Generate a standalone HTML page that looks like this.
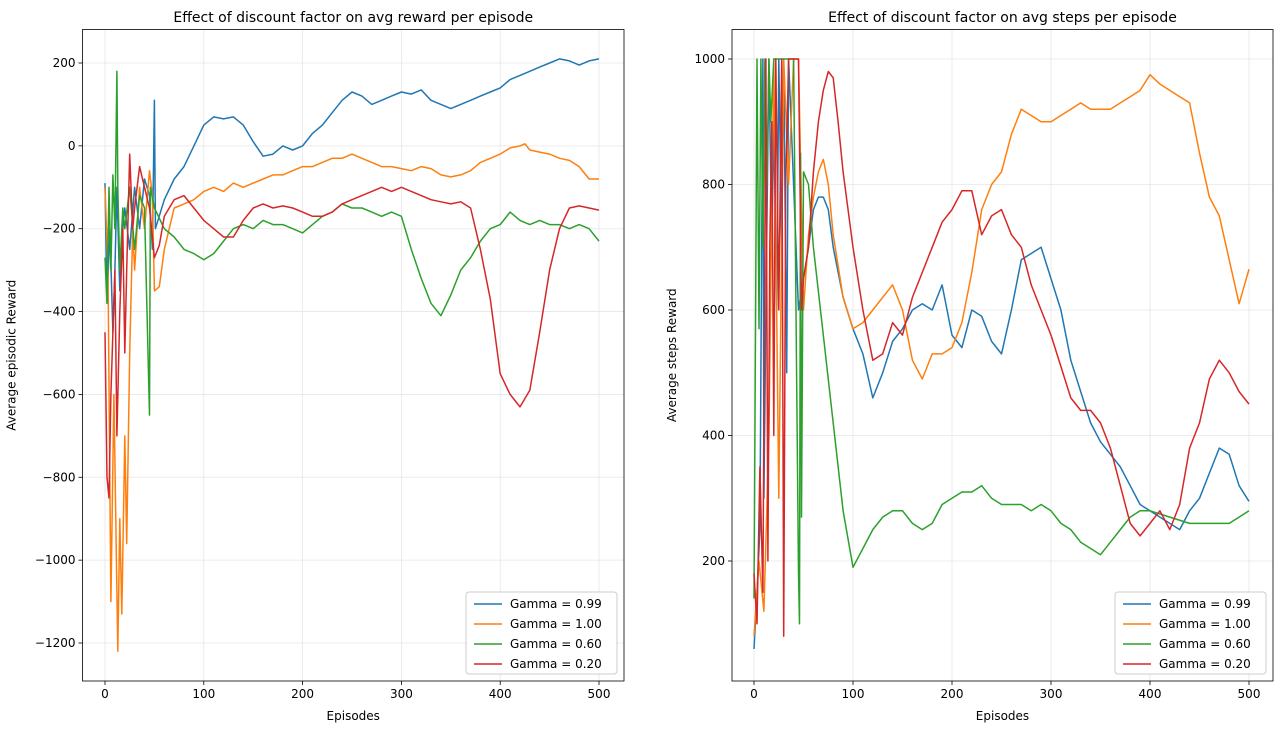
<!DOCTYPE html>
<html><head><meta charset="utf-8"><style>
body{margin:0;background:#fff;font-family:"Liberation Sans","DejaVu Sans",sans-serif}
svg text{font-family:"DejaVu Sans","Liberation Sans",sans-serif;fill:#000}
</style></head><body>
<svg id="chart" width="1282" height="732" xmlns="http://www.w3.org/2000/svg"></svg>
<script>
const seriesNames=["Gamma = 0.99","Gamma = 1.00","Gamma = 0.60","Gamma = 0.20"];
const colors=["#1f77b4","#ff7f0e","#2ca02c","#d62728"];
const xTicks=[0,100,200,300,400,500];
const leftYTicks=[200,0,-200,-400,-600,-800,-1000,-1200];
const rightYTicks=[200,400,600,800,1000];
// left chart: [episode, value]
const rewB=[[0,-90],[2,-380],[5,-200],[8,-450],[10,-300],[12,-100],[15,-350],[18,-200],[20,-150],[25,-250],[30,-100],[35,-200],[40,-80],[45,-120],[48,-250],[50,110],[51,-200],[60,-130],[70,-80],[80,-50],[90,0],[100,50],[110,70],[120,65],[130,70],[140,50],[150,10],[160,-25],[170,-20],[180,0],[190,-10],[200,0],[210,30],[220,50],[230,80],[240,110],[250,130],[260,120],[270,100],[280,110],[290,120],[300,130],[310,125],[320,135],[330,110],[340,100],[350,90],[360,100],[370,110],[380,120],[390,130],[400,140],[410,160],[420,170],[430,180],[440,190],[450,200],[460,210],[470,205],[480,195],[490,205],[500,210]];
const rewO=[[0,-100],[3,-300],[6,-1100],[9,-600],[13,-1220],[15,-900],[17,-1130],[20,-700],[22,-960],[25,-500],[28,-200],[30,-300],[35,-100],[40,-200],[45,-60],[48,-120],[50,-350],[55,-340],[60,-250],[65,-200],[70,-150],[80,-140],[90,-130],[100,-110],[110,-100],[120,-110],[130,-90],[140,-100],[150,-90],[160,-80],[170,-70],[180,-70],[190,-60],[200,-50],[210,-50],[220,-40],[230,-30],[240,-30],[250,-20],[260,-30],[270,-40],[280,-50],[290,-50],[300,-55],[310,-60],[320,-50],[330,-55],[340,-70],[350,-75],[360,-70],[370,-60],[380,-40],[390,-30],[400,-20],[410,-5],[420,0],[425,5],[430,-10],[440,-15],[450,-20],[460,-30],[470,-35],[480,-50],[490,-80],[500,-80]];
const rewG=[[0,-270],[2,-380],[4,-100],[6,-300],[8,-70],[10,-200],[12,180],[13,-100],[15,-300],[18,-150],[20,-200],[25,-100],[30,-250],[35,-120],[40,-150],[45,-650],[46,-100],[50,-150],[60,-200],[70,-220],[80,-250],[90,-260],[100,-275],[110,-260],[120,-230],[130,-200],[140,-190],[150,-200],[160,-180],[170,-190],[180,-190],[190,-200],[200,-210],[210,-190],[220,-170],[230,-160],[240,-140],[250,-150],[260,-150],[270,-160],[280,-170],[290,-160],[300,-170],[310,-250],[320,-320],[330,-380],[340,-410],[350,-360],[360,-300],[370,-270],[380,-230],[390,-200],[400,-190],[410,-160],[420,-180],[430,-190],[440,-180],[450,-190],[460,-190],[470,-200],[480,-190],[490,-200],[500,-230]];
const rewR=[[0,-450],[2,-800],[4,-850],[6,-600],[8,-450],[10,-300],[12,-700],[15,-400],[18,-200],[20,-500],[22,-300],[25,-20],[28,-200],[30,-150],[35,-50],[40,-100],[45,-150],[50,-270],[55,-240],[60,-170],[70,-130],[80,-120],[90,-150],[100,-180],[110,-200],[120,-220],[130,-220],[140,-180],[150,-150],[160,-140],[170,-150],[180,-145],[190,-150],[200,-160],[210,-170],[220,-170],[230,-160],[240,-140],[250,-130],[260,-120],[270,-110],[280,-100],[290,-110],[300,-100],[310,-110],[320,-120],[330,-130],[340,-135],[350,-140],[360,-135],[370,-150],[380,-250],[390,-370],[400,-550],[410,-600],[420,-630],[430,-590],[440,-450],[450,-300],[460,-200],[470,-150],[480,-145],[490,-150],[500,-155]];
// right chart
const stepB=[[0,60],[3,150],[6,250],[9,1000],[10,300],[12,600],[15,1000],[18,700],[20,900],[23,600],[25,1000],[28,700],[30,1000],[33,500],[35,1000],[40,800],[45,600],[50,650],[55,700],[60,760],[65,780],[70,780],[75,760],[80,700],[90,620],[100,570],[110,530],[120,460],[130,500],[140,550],[150,570],[160,600],[170,610],[180,600],[190,640],[200,560],[210,540],[220,600],[230,590],[240,550],[250,530],[260,600],[270,680],[280,690],[290,700],[300,650],[310,600],[320,520],[330,470],[340,420],[350,390],[360,370],[370,350],[380,320],[390,290],[400,280],[410,270],[420,260],[430,250],[440,280],[450,300],[460,340],[470,380],[480,370],[490,320],[500,295]];
const stepO=[[0,80],[5,200],[10,120],[15,400],[20,1000],[25,300],[30,1000],[35,800],[40,1000],[45,1000],[50,600],[55,720],[60,780],[65,820],[70,840],[75,800],[80,720],[90,620],[100,570],[110,580],[120,600],[130,620],[140,640],[150,600],[160,520],[170,490],[180,530],[190,530],[200,540],[210,580],[220,660],[230,760],[240,800],[250,820],[260,880],[270,920],[280,910],[290,900],[300,900],[310,910],[320,920],[330,930],[340,920],[350,920],[360,920],[370,930],[380,940],[390,950],[400,975],[410,960],[420,950],[430,940],[440,930],[450,850],[460,780],[470,750],[480,680],[490,610],[500,665]];
const stepG=[[0,140],[3,1000],[5,570],[7,1000],[9,700],[11,1000],[13,800],[15,1000],[17,900],[20,1000],[25,1000],[30,1000],[35,1000],[40,1000],[45,180],[46,100],[47,850],[48,270],[50,820],[55,800],[60,700],[70,560],[80,420],[90,280],[100,190],[110,220],[120,250],[130,270],[140,280],[150,280],[160,260],[170,250],[180,260],[190,290],[200,300],[210,310],[220,310],[230,320],[240,300],[250,290],[260,290],[270,290],[280,280],[290,290],[300,280],[310,260],[320,250],[330,230],[340,220],[350,210],[360,230],[370,250],[380,270],[390,280],[400,280],[420,270],[440,260],[460,260],[480,260],[490,270],[500,280]];
const stepR=[[0,180],[3,100],[6,350],[9,150],[12,1000],[14,200],[16,700],[18,900],[20,400],[22,1000],[25,600],[28,1000],[30,80],[32,800],[35,1000],[40,1000],[45,1000],[48,600],[50,650],[55,700],[60,820],[65,900],[70,950],[75,980],[80,970],[85,900],[90,820],[100,700],[110,600],[120,520],[130,530],[140,580],[150,560],[160,620],[170,660],[180,700],[190,740],[200,760],[210,790],[220,790],[230,720],[240,750],[250,760],[260,720],[270,700],[280,640],[290,600],[300,560],[310,510],[320,460],[330,440],[340,440],[350,420],[360,380],[370,320],[380,260],[390,240],[400,260],[410,280],[420,250],[430,290],[440,380],[450,420],[460,490],[470,520],[480,500],[490,470],[500,450]];

const NS="http://www.w3.org/2000/svg";
const svg=document.getElementById('chart');
function mk(tag,attrs,parent,txt){const e=document.createElementNS(NS,tag);for(const k in attrs)e.setAttribute(k,attrs[k]);if(txt!==undefined)e.textContent=txt;(parent||svg).appendChild(e);return e;}

function panel(cfg){
  const g=mk('g',{});
  
  
  const sx=v=>cfg.x0+(v-0)*(cfg.x500-cfg.x0)/500;
  const sy=v=>cfg.ya+(v-cfg.va)*(cfg.yb-cfg.ya)/(cfg.vb-cfg.va);
  xTicks.forEach(t=>{const l=mk('line',{x1:sx(t),x2:sx(t),y1:cfg.top,y2:cfg.bot,stroke:'#e6e6e6','stroke-width':0.8},g);});
  cfg.yTicks.forEach(t=>{const l=mk('line',{x1:cfg.left,x2:cfg.right,y1:sy(t),y2:sy(t),stroke:'#e6e6e6','stroke-width':0.8},g);});
  const clip=mk('clipPath',{id:'c'+cfg.name},g);mk('rect',{x:cfg.left,y:cfg.top,width:cfg.right-cfg.left,height:cfg.bot-cfg.top},clip);
  cfg.series.forEach((s,i)=>{
    const p=mk('polyline',{points:s.map(d=>sx(d[0]).toFixed(1)+','+sy(d[1]).toFixed(1)).join(' '),fill:'none',stroke:colors[i],'stroke-width':1.5,'stroke-linejoin':'round','clip-path':'url(#c'+cfg.name+')'},g);
    
    
  });
  const fr=mk('rect',{x:cfg.left,y:cfg.top,width:cfg.right-cfg.left,height:cfg.bot-cfg.top,fill:'none',stroke:'#000','stroke-width':0.8},g);
  
  xTicks.forEach(t=>{mk('line',{x1:sx(t),x2:sx(t),y1:cfg.bot,y2:cfg.bot+4,stroke:'#000','stroke-width':0.8},g);
    const tx=mk('text',{x:sx(t),y:cfg.bot+17,'text-anchor':'middle','font-size':12},g,t);});
  cfg.yTicks.forEach(t=>{mk('line',{x1:cfg.left-4,x2:cfg.left,y1:sy(t),y2:sy(t),stroke:'#000','stroke-width':0.8},g);
    const tx=mk('text',{x:cfg.left-7,y:sy(t)+4,'text-anchor':'end','font-size':12},g,String(t).replace('-','\u2212'));});
  const tt=mk('text',{x:(cfg.left+cfg.right)/2,y:22,'text-anchor':'middle','font-size':14},g,cfg.title);
  const xl=mk('text',{x:(cfg.left+cfg.right)/2,y:720,'text-anchor':'middle','font-size':12},g,'Episodes');
  const yx=cfg.left-cfg.yoff, yy=(cfg.top+cfg.bot)/2;
  const yl=mk('text',{x:yx,y:yy,'text-anchor':'middle','font-size':12,transform:`rotate(-90 ${yx} ${yy})`},g,cfg.ylabel);
  const lx=cfg.right-158, ly=592;
  const lg=mk('g',{},g);
  mk('rect',{x:lx,y:ly,width:151,height:82,rx:3,fill:'#fff','fill-opacity':0.85,stroke:'#ccc'},lg);
  seriesNames.forEach((n,i)=>{const e=mk('g',{},lg);
    const y=ly+12+i*20;mk('line',{x1:lx+8,x2:lx+36,y1:y,y2:y,stroke:colors[i],'stroke-width':1.5},e);
    mk('text',{x:lx+44,y:y+4,'font-size':12},e,n);});
}
panel({name:'reward-panel',yoff:67,left:82.5,right:624,top:29.5,bot:681,x0:105,x500:599,ya:63,va:200,yb:643,vb:-1200,yTicks:leftYTicks,series:[rewB,rewO,rewG,rewR],title:'Effect of discount factor on avg reward per episode',ylabel:'Average episodic Reward'});
panel({name:'steps-panel',yoff:56,left:732,right:1273,top:29.5,bot:681,x0:754,x500:1249,ya:59,va:1000,yb:561,vb:200,yTicks:rightYTicks,series:[stepB,stepO,stepG,stepR],title:'Effect of discount factor on avg steps per episode',ylabel:'Average steps Reward'});
</script>
</body></html>
